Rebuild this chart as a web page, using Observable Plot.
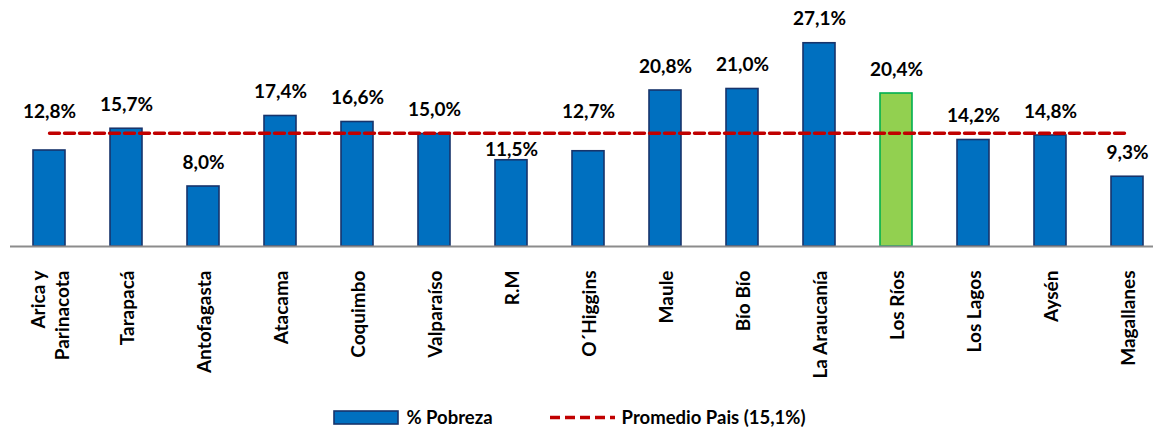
<!DOCTYPE html>
<html>
<head>
<meta charset="utf-8">
<script src="https://cdn.jsdelivr.net/npm/d3@7"></script>
<script src="https://cdn.jsdelivr.net/npm/@observablehq/plot@0.6"></script>
<style>
  html, body { margin: 0; padding: 0; background: #fff; }
  #chart svg { display: block; }
  .legend { display: flex; justify-content: center; align-items: center; height: 26px; gap: 56px; padding-top: 4px; padding-right: 14px;
            font-family: Lato, "Open Sans", sans-serif; font-weight: 700; font-size: 18.5px; color: #000; }
  .legend .item { display: flex; align-items: center; gap: 7px; }
</style>
</head>
<body>
<div id="chart"></div>
<script>
const regions = ["Arica y\nParinacota", "Tarapacá", "Antofagasta", "Atacama", "Coquimbo", "Valparaíso", "R.M",
  "O´Higgins", "Maule", "Bío Bío", "La Araucanía", "Los Ríos", "Los Lagos", "Aysén", "Magallanes"];
const pobreza = [12.8, 15.7, 8.0, 17.4, 16.6, 15.0, 11.5, 12.7, 20.8, 21.0, 27.1, 20.4, 14.2, 14.8, 9.3];
const highlighted = "Los Ríos";
const promedio = 15.1;
const legendLabels = ["% Pobreza", "Promedio Pais (15,1%)"];

const W = 1153, H = 400, mTop = 21, mBottom = 154;
const yDomain = [0, 30];
const pxPerUnit = (H - mBottom - mTop) / (yDomain[1] - yDomain[0]);

const fmt = v => v.toFixed(1).replace(".", ",") + "%";
// label placement: default just above bar; avoid overlapping the average line
function labelY(v) {
  const gap = (promedio - v) * pxPerUnit; // px the bar top is below the line
  const textH = 13, lineHalf = 3;
  const overlaps = (baseBelowLine) => baseBelowLine - textH < lineHalf && baseBelowLine > -lineHalf;
  if (!overlaps(gap - 18)) return v + 18 / pxPerUnit;
  if (!overlaps(gap - 4)) return v + 4 / pxPerUnit;
  return promedio + 15 / pxPerUnit;
}

const data = regions.map((r, i) => ({region: r, value: pobreza[i], ly: labelY(pobreza[i]), label: fmt(pobreza[i])}));
const avgLine = regions.map(r => ({region: r, value: promedio}));

const font = "Lato, 'Open Sans', sans-serif";
const chart = Plot.plot({
  width: W, height: H,
  marginTop: mTop, marginBottom: mBottom, marginLeft: 10, marginRight: 0,
  style: {fontFamily: font, background: "#fff"},
  x: {domain: regions, range: [9.4, 1167], paddingInner: 0.585, paddingOuter: 0.2925, axis: null},
  y: {domain: yDomain, axis: null},
  marks: [
    Plot.barY(data, {x: "region", y: "value",
      fill: d => d.region === highlighted ? "#92D050" : "#0070C0",
      stroke: d => d.region === highlighted ? "#00B050" : "#17346B", strokeWidth: 1.6}),
    Plot.ruleY([0], {stroke: "#8c8c8c", strokeWidth: 2}),
    Plot.lineY(avgLine, {x: "region", y: "value", stroke: "#C00000", strokeWidth: 3.4, strokeDasharray: "10,5"}),
    Plot.text(data, {x: "region", y: "ly", text: "label", lineAnchor: "bottom",
      fontSize: 19, fontWeight: 700, fill: "#000"}),
    Plot.text(data, {x: "region", text: "region", frameAnchor: "bottom", dy: 24, rotate: -90,
      textAnchor: "end", lineAnchor: "middle", lineHeight: 1.25, fontSize: 19, fontWeight: 700, fill: "#000"})
  ]
});
document.getElementById("chart").appendChild(chart);

const legend = document.createElement("div");
legend.className = "legend";
legend.innerHTML = `
  <div class="item"><svg width="66" height="15"><rect x="1" y="1" width="64" height="13" fill="#0070C0" stroke="#17346B" stroke-width="1.6"/></svg><span>${legendLabels[0]}</span></div>
  <div class="item"><svg width="66" height="15"><line x1="1" x2="66" y1="7.5" y2="7.5" stroke="#C00000" stroke-width="3.4" stroke-dasharray="10,5"/></svg><span>${legendLabels[1]}</span></div>`;
document.body.appendChild(legend);
</script>
</body>
</html>
